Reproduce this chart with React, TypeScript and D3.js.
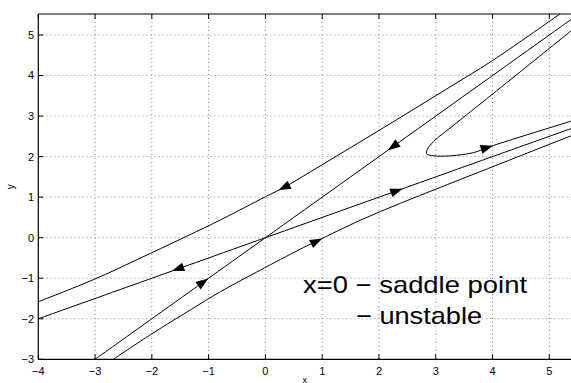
import * as d3 from "d3";

// tick values
const xTicks = [-4, -3, -2, -1, 0, 1, 2, 3, 4, 5];
const yTicks = [-3, -2, -1, 0, 1, 2, 3, 4, 5];

// trajectories (data units)
const upperLeftCurve: [number, number][] = [
  [-4, -1.58], [-3.02, -1.03], [-2.0, -0.37], [-0.79, 0.44], [0, 1.01], [0.33, 1.24],
  [0.61, 1.47], [1.0, 1.8], [2.03, 2.67], [3.17, 3.65], [4.0, 4.37], [5.16, 5.49], [5.3, 5.62],
];
const stableLine: [number, number][] = [[-3, -3], [0, 0], [5.6, 5.6]];
const unstableLine: [number, number][] = [[-4, -2], [0, 0], [5.5, 2.75]];
const lowerRightCurve: [number, number][] = [
  [-2.68, -3.0], [-2.0, -2.37], [-1.32, -1.78], [-0.79, -1.33], [-0.09, -0.8],
  [0.59, -0.3], [0.91, -0.08], [1.67, 0.43], [2.38, 0.85], [3.08, 1.24], [4.2, 1.86],
  [5.4, 2.52], [5.5, 2.57],
];
const hairpinCurve: [number, number][] = [
  [5.5, 5.23], [5.4, 5.12], [3.99, 3.53], [3.32, 2.78], [2.96, 2.37], [2.85, 2.17], [2.84, 2.07],
  [2.96, 2.02], [3.26, 2.02], [3.67, 2.1], [3.9, 2.22], [4.43, 2.46], [5.37, 2.87], [5.5, 2.93],
];

// arrowheads: position and direction of travel (data units)
const arrows = [
  { x: 0.33, y: 1.24, dx: -1, dy: -0.7 },
  { x: 2.25, y: 2.25, dx: -1, dy: -1 },
  { x: -1.1, y: -1.1, dx: 1, dy: 1 },
  { x: -1.54, y: -0.77, dx: -1, dy: -0.5 },
  { x: 2.31, y: 1.155, dx: 1, dy: 0.5 },
  { x: 0.9, y: -0.09, dx: 1, dy: 0.7 },
  { x: 3.9, y: 2.22, dx: 1, dy: 0.42 },
];

const width = 571;
const height = 383;
const plotLeft = 38.3;
const plotTop = 14;
const plotRight = 571;
const plotBottom = 359.3;

export default function App() {
  const x = d3.scaleLinear().domain([-4, 5]).range([plotLeft, 549.3]);
  const y = d3.scaleLinear().domain([-3, 5]).range([plotBottom, 35]);
  const fmt = d3.format("d");

  const line = d3
    .line<[number, number]>()
    .x((d) => x(d[0]))
    .y((d) => y(d[1]))
    .curve(d3.curveCatmullRom.alpha(0.5));

  const curves = [upperLeftCurve, stableLine, unstableLine, lowerRightCurve, hairpinCurve];
  const font = "'Liberation Sans', Arial, Helvetica, sans-serif";

  return (
    <svg
      width={width}
      height={height}
      style={{ position: "absolute", left: 0, top: 0, background: "#fff" }}
    >
      <defs>
        <clipPath id="plot-clip">
          <rect x={plotLeft} y={plotTop} width={plotRight - plotLeft} height={plotBottom - plotTop} />
        </clipPath>
      </defs>

      {/* grid */}
      <g stroke="#666" strokeWidth={0.8} strokeDasharray="1 3">
        {xTicks.slice(1).map((t) => (
          <line key={"gx" + t} x1={x(t)} x2={x(t)} y1={plotTop} y2={plotBottom} />
        ))}
        {yTicks.slice(1).map((t) => (
          <line key={"gy" + t} x1={plotLeft} x2={plotRight} y1={y(t)} y2={y(t)} />
        ))}
      </g>

      {/* trajectories */}
      <g clipPath="url(#plot-clip)" fill="none" stroke="#000" strokeWidth={1}>
        {curves.map((c, i) => (
          <path key={i} d={line(c) ?? ""} />
        ))}
        {arrows.map((a, i) => {
          const ang = (Math.atan2(y(a.y + a.dy) - y(a.y), x(a.x + a.dx) - x(a.x)) * 180) / Math.PI;
          return (
            <path
              key={"a" + i}
              d="M6.5,0 L-6,-4.5 L-6,4.5 Z"
              fill="#000"
              stroke="none"
              transform={`translate(${x(a.x)},${y(a.y)}) rotate(${ang})`}
            />
          );
        })}
      </g>

      {/* axes box */}
      <g stroke="#000" strokeWidth={1.2} fill="none">
        <line x1={plotLeft} x2={plotRight} y1={plotTop} y2={plotTop} />
        <line x1={plotLeft} x2={plotRight} y1={plotBottom} y2={plotBottom} />
        <line x1={plotLeft} x2={plotLeft} y1={plotTop} y2={plotBottom} />
      </g>
      <g stroke="#000" strokeWidth={1}>
        {xTicks.map((t) => (
          <g key={"tx" + t}>
            <line x1={x(t)} x2={x(t)} y1={plotBottom} y2={plotBottom - 5} />
            <line x1={x(t)} x2={x(t)} y1={plotTop} y2={plotTop + 5} />
          </g>
        ))}
        {yTicks.map((t) => (
          <line key={"ty" + t} x1={plotLeft} x2={plotLeft + 5} y1={y(t)} y2={y(t)} />
        ))}
      </g>

      {/* tick labels */}
      <g fontFamily={font} fontSize={11} fill="#000">
        {xTicks.map((t) => (
          <text key={"lx" + t} x={x(t)} y={375} textAnchor="middle">
            {fmt(t)}
          </text>
        ))}
        {yTicks.map((t) => (
          <text key={"ly" + t} x={34} y={y(t)} dy="0.36em" textAnchor="end">
            {fmt(t)}
          </text>
        ))}
      </g>

      {/* axis labels */}
      <text
        x={0}
        y={0}
        fontFamily={font}
        fontSize={10}
        textAnchor="middle"
        transform={`translate(14,${(plotTop + plotBottom) / 2}) rotate(-90)`}
      >
        y
      </text>
      <text x={(plotLeft + plotRight) / 2} y={382.5} fontFamily={font} fontSize={9} textAnchor="middle">
        x
      </text>

      {/* annotation */}
      <g fontFamily={font} fontSize={24} fill="#000">
        <text x={303} y={293} textLength={224} lengthAdjust="spacingAndGlyphs">
          x=0 − saddle point
        </text>
        <text x={356} y={324} textLength={126} lengthAdjust="spacingAndGlyphs">
          − unstable
        </text>
      </g>
    </svg>
  );
}
